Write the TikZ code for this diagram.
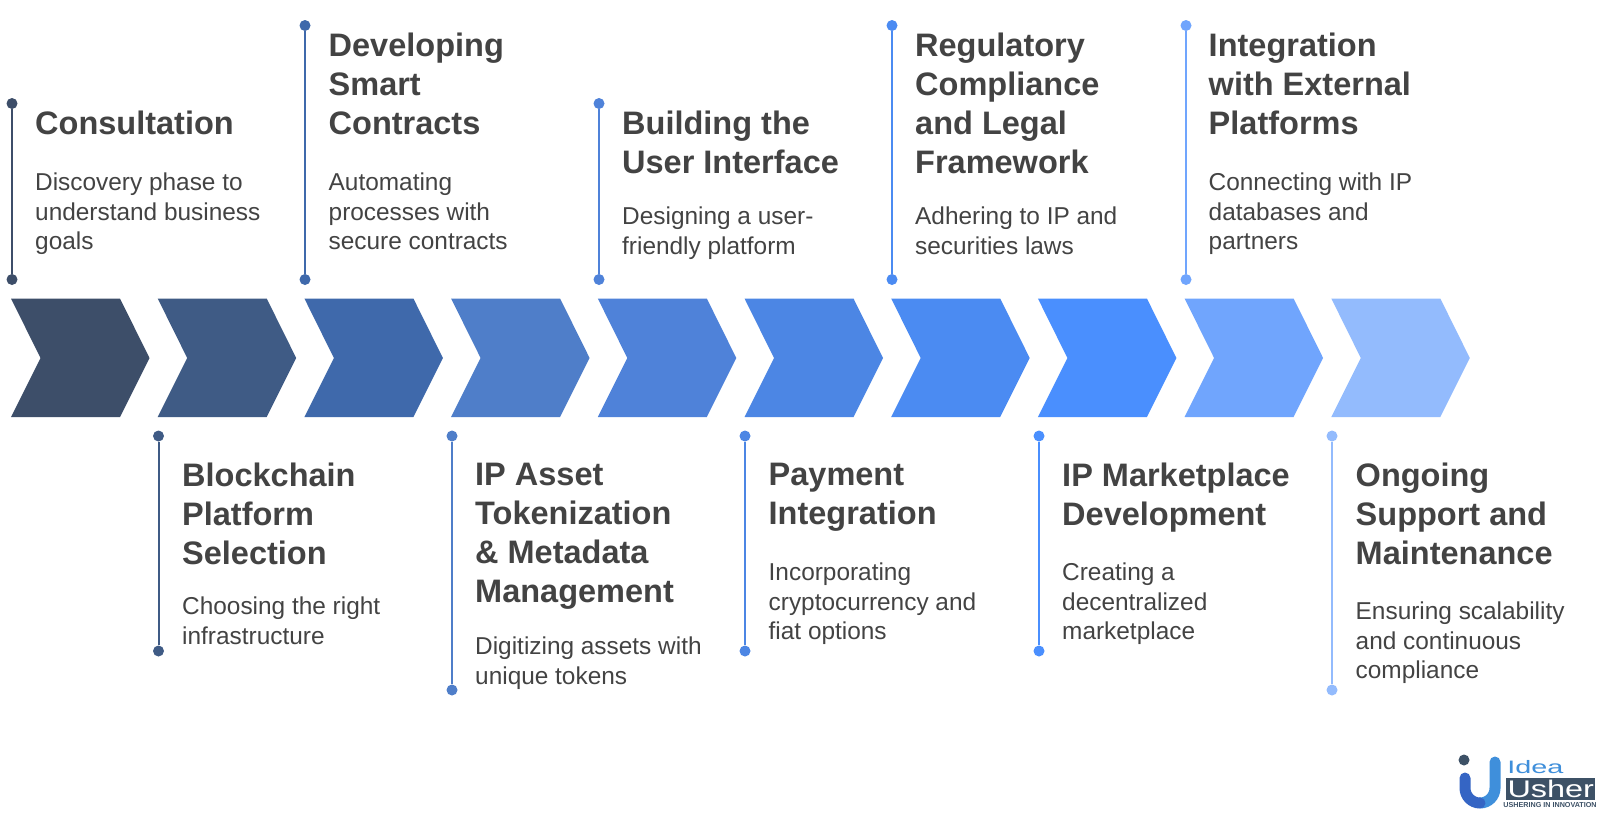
\documentclass[tikz,border=0pt]{standalone}
\usepackage{fontspec}
\setmainfont{Liberation Sans}
\definecolor{txt}{HTML}{434343}
\definecolor{c1}{HTML}{3D4E69}
\definecolor{c2}{HTML}{3F5B85}
\definecolor{c3}{HTML}{3F69AB}
\definecolor{c4}{HTML}{4F7EC9}
\definecolor{c5}{HTML}{4F82D9}
\definecolor{c6}{HTML}{4C86E4}
\definecolor{c7}{HTML}{4B8BF2}
\definecolor{c8}{HTML}{4A8FFE}
\definecolor{c9}{HTML}{70A5FD}
\definecolor{c10}{HTML}{93BBFD}
\definecolor{logoblue}{HTML}{3F8FDB}
\definecolor{logodeep}{HTML}{3565C4}
\definecolor{logodark}{HTML}{3D5166}
\tikzset{
  x=1pt,y=-1pt,
  head/.style={anchor=north west,inner sep=0pt,align=left,text=txt,font=\fontsize{32.5}{39}\selectfont\bfseries,execute at begin node={\rule{0pt}{30pt}}},
  body/.style={anchor=north west,inner sep=0pt,align=left,text=txt,font=\fontsize{24.4}{29.2}\selectfont,execute at begin node={\rule{0pt}{22pt}}},
  dotn/.style={circle,inner sep=0pt,minimum size=11pt,fill=#1},
  stem/.style={draw=#1,line width=2pt},
}
\newcommand{\chev}[2]{\fill[#2] (#1+11,298.5) -- (#1+120,298.5) -- (#1+149.5,358) -- (#1+120,417) -- (#1+11,417) -- (#1+40.5,358) -- cycle;}
\begin{document}
\begin{tikzpicture}
\useasboundingbox (0,0) rectangle (1600,812);
\fill[white] (0,0) rectangle (1600,812);
\chev{0}{c1}
\chev{146.7}{c2}
\chev{293.4}{c3}
\chev{440.1}{c4}
\chev{586.8}{c5}
\chev{733.5}{c6}
\chev{880.2}{c7}
\chev{1026.9}{c8}
\chev{1173.6}{c9}
\chev{1320.3}{c10}
% stems
\node[dotn=c1] (a1) at (12,103.5) {}; \node[dotn=c1] (b1) at (12,279.5) {}; \draw[stem=c1] (a1)--(b1);
\node[dotn=c2] (a2) at (158.5,436) {}; \node[dotn=c2] (b2) at (158.5,651) {}; \draw[stem=c2] (a2)--(b2);
\node[dotn=c3] (a3) at (305,25.5) {}; \node[dotn=c3] (b3) at (305,279.5) {}; \draw[stem=c3] (a3)--(b3);
\node[dotn=c4] (a4) at (452,436) {}; \node[dotn=c4] (b4) at (452,690) {}; \draw[stem=c4] (a4)--(b4);
\node[dotn=c5] (a5) at (599,103.5) {}; \node[dotn=c5] (b5) at (599,279.5) {}; \draw[stem=c5] (a5)--(b5);
\node[dotn=c6] (a6) at (745,436) {}; \node[dotn=c6] (b6) at (745,651) {}; \draw[stem=c6] (a6)--(b6);
\node[dotn=c7] (a7) at (892,25.5) {}; \node[dotn=c7] (b7) at (892,279.5) {}; \draw[stem=c7] (a7)--(b7);
\node[dotn=c8] (a8) at (1039,436) {}; \node[dotn=c8] (b8) at (1039,651) {}; \draw[stem=c8] (a8)--(b8);
\node[dotn=c9] (a9) at (1186,25.5) {}; \node[dotn=c9] (b9) at (1186,279.5) {}; \draw[stem=c9] (a9)--(b9);
\node[dotn=c10] (a10) at (1332,436) {}; \node[dotn=c10] (b10) at (1332,690) {}; \draw[stem=c10] (a10)--(b10);
% upper text
\node[head] (h1) at (35,104.5) {Consultation};
\node[body] (t1) at (35,173) {Discovery phase to\\understand business\\goals};
\node[head] (h3) at (328.5,33) {Developing\\Smart\\Contracts};
\node[body] (t3) at (328.5,173) {Automating\\processes with\\secure contracts};
\node[head] (h5) at (622,111) {Building the\\User Interface};
\node[body] (t5) at (622,207) {Designing a user-\\friendly platform};
\node[head] (h7) at (915,33) {Regulatory\\Compliance\\and Legal\\Framework};
\node[body] (t7) at (915,207) {Adhering to IP and\\securities laws};
\node[head] (h9) at (1208.5,33) {Integration\\with External\\Platforms};
\node[body] (t9) at (1208.5,173) {Connecting with IP\\databases and\\partners};
% lower text
\node[head] (h2) at (182,463) {Blockchain\\Platform\\Selection};
\node[body] (t2) at (182,597) {Choosing the right\\infrastructure};
\node[head] (h4) at (475,463) {IP Asset\\Tokenization\\\& Metadata\\Management};
\node[body] (t4) at (475,637) {Digitizing assets with\\unique tokens};
\node[head] (h6) at (768.5,463) {Payment\\Integration};
\node[body] (t6) at (768.5,563) {Incorporating\\cryptocurrency and\\fiat options};
\node[head] (h8) at (1062,463) {IP Marketplace\\Development};
\node[body] (t8) at (1062,563) {Creating a\\decentralized\\marketplace};
\node[head] (h10) at (1355.5,463) {Ongoing\\Support and\\Maintenance};
\node[body] (t10) at (1355.5,602) {Ensuring scalability\\and continuous\\compliance};
% logo
\draw[logoblue,line width=11pt,line cap=round] (1495,762) -- (1495,788) arc[start angle=0,end angle=90,radius=15];
\draw[logodeep,line width=11pt,line cap=round] (1465,778) -- (1465,788) arc[start angle=180,end angle=90,radius=15];
\node[circle,inner sep=0pt,minimum size=11pt,fill=logodark] (ld) at (1464,760) {};
\node[inner sep=0pt,anchor=west,text=logoblue,xscale=1.6,font=\fontsize{18}{18}\selectfont] (li) at (1507,767.5) {Idea};
\node[anchor=north west,inner sep=0pt,minimum width=89pt,minimum height=22pt,fill=logodark] (lr) at (1506,778) {};
\node[inner sep=0pt,text=white,xscale=1.35,font=\fontsize{24}{24}\selectfont] (lu) at (lr.center) {Usher};
\node[inner sep=0pt,text=logodark,font=\fontsize{7.2}{8}\selectfont\bfseries] (ls) at (1550,805.5) {USHERING IN INNOVATION};
\end{tikzpicture}
\end{document}
